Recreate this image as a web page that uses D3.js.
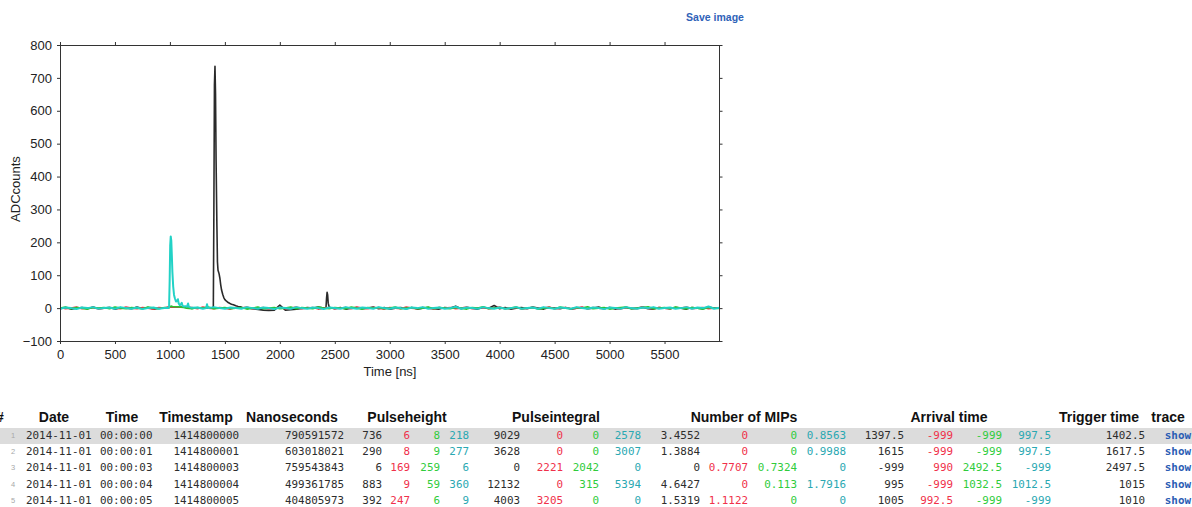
<!DOCTYPE html>
<html>
<head>
<meta charset="utf-8">
<script src="https://cdn.jsdelivr.net/npm/d3@7"></script>
<style>
  body { margin: 0; background: #fff; }
  svg { display: block; }
</style>
</head>
<body>
<div id="chart"></div>
<script>
// ---- trace data (ADC counts), baseline sampled every 50 ns ----
const baseStep = 50;
const blackBase = [-2,2,-3,0,2,-2,3,-1,0,2, -3,1,0,-2,3,-1,2,-3,0,1, 3,4,3,3,-1,1,0,0,0,0,
  0,0,0,2,1,-2,-4,-6,-7,-6, 9,-6,-5,-3,-1,2,0,3,0,0, -2,2,-3,0,2,-2,0,3,-2,2,
  -3,0,2,-2,2,-3,0,2,-2,-3, 2,0,6,-2,2,0,-3,2,0,8, -2,2,-3,0,2,-2,3,0,-3,2,
  0,-2,2,-3,0,2,-2,0,3,-2, 2,-3,0,2,-2,0,3,-2,-3,2, 0,-2,2,0,-3,2,0,-2,3,0, 1];
const redBase = [2,-2,0,3,-2,0,2,-3,0,2, 0,-2,3,0,-2,2,0,-3,2,0, 3,4,3,3,2,-2,3,0,-2,2,
  0,-3,2,0,3,-2,0,2,-2,0, 2,-2,0,3,-2,0,2,-3,0,2, -2,0,2,-2,3,0,-2,2,0,-3,
  2,0,-2,3,0,-2,2,0,-3,2, 0,2,-2,0,3,-2,0,2,-2,0, 3,-2,0,2,-3,0,2,-2,0,3,
  -2,0,2,-2,0,3,-2,2,0,-2, 2,0,-3,2,0,-2,3,0,-2,2, 0,-2,2,0,3,-2,0,2,-2,0, 1];
const greenBase = [0,3,-2,2,0,-3,2,0,2,-2, 3,0,-2,2,0,-2,3,0,-2,2, 0,0,0,0,-2,2,0,3,-2,0,
  2,-2,0,2,-3,0,3,-2,0,2, -2,0,3,-2,2,0,-2,3,0,-2, 2,0,-2,3,0,-3,2,0,2,-2,
  0,3,-2,0,2,-2,0,3,-2,2, 0,-2,2,0,-3,2,0,4,-2,0, 2,-2,0,3,-2,0,2,-3,0,2,
  -2,3,0,-2,2,0,4,-2,0,2, -3,0,2,3,-2,0,2,4,-2,0, 2,-2,3,0,-2,2,0,-3,2,0, -1];
const cyanBase = [-2,2,0,-3,2,0,3,-2,0,2, -2,3,0,-2,2,-3,0,2,-2,0, 0,0,0,0,0,2,-2,0,3,0,
  -2,2,0,-2,3,0,-2,2,0,-3, 2,0,-2,3,0,-2,2,0,-3,2, 0,-2,3,0,-2,2,0,-2,3,0,
  -2,2,0,-3,2,0,3,-2,0,2, -2,0,4,-2,2,0,-2,3,0,-2, 2,-2,0,3,-2,0,2,-2,3,0,
  -2,2,0,-2,3,0,-2,2,0,-3, 2,0,-2,3,0,-2,2,0,3,-2, 0,2,-2,0,3,-2,2,0,5,-2, 1];

// pulse segments [time ns, ADC]
const blackPulses = [
  [[1390,0],[1395,5],[1400,300],[1405,680],[1410,735],[1415,650],[1420,450],[1427.5,250],[1432.5,140],
   [1437.5,115],[1442.5,110],[1447.5,104],[1455,90],[1462.5,70],[1470,55],[1480,42],[1490,32],[1500,26],
   [1515,21],[1530,17],[1547,14],[1560,12],[1577,10],[1600,7],[1620,5],[1640,4],[1660,2],[1690,1]],
  [[2415,0],[2420,2],[2425,30],[2430,48],[2435,40],[2440,15],[2447.5,5],[2460,1]]
];
const redPulses = [];
const greenPulses = [
  [[990,0],[1000,4],[1010,6],[1025,5],[1050,4],[1075,4],[1100,3],[1125,2],[1150,0]]
];
const cyanPulses = [
  [[985,0],[992.5,3],[997.5,80],[1002.5,190],[1007.5,218],[1012.5,205],[1017.5,160],[1022.5,110],
   [1030,65],[1037.5,40],[1045,30],[1055,20],[1065,22],[1072.5,27],[1080,14],[1090,9],[1100,12],
   [1107.5,16],[1115,7],[1130,5],[1140,6],[1155,4],[1165,14],[1172.5,4],[1185,2],[1200,1]],
  [[1330,0],[1337.5,12],[1345,1]]
];

const traceColors = ["#2a2a2a", "#e8384c", "#28c42e", "#22d2c6"];
const xTicks = [0,500,1000,1500,2000,2500,3000,3500,4000,4500,5000,5500];
const yTicks = [-100,0,100,200,300,400,500,600,700,800];

// ---- table data ----
const headers = [
  { label: "#", x: 0 }, { label: "Date", x: 54 }, { label: "Time", x: 122 },
  { label: "Timestamp", x: 196 }, { label: "Nanoseconds", x: 292 }, { label: "Pulseheight", x: 407 },
  { label: "Pulseintegral", x: 556 }, { label: "Number of MIPs", x: 744 }, { label: "Arrival time", x: 949 },
  { label: "Trigger time", x: 1099 }, { label: "trace", x: 1168 }
];
const dates = ["2014-11-01","2014-11-01","2014-11-01","2014-11-01","2014-11-01"];
const times = ["00:00:00","00:00:01","00:00:03","00:00:04","00:00:05"];
const timestamps = ["1414800000","1414800001","1414800003","1414800004","1414800005"];
const nanoseconds = ["790591572","603018021","759543843","499361785","404805973"];
const pulseheights = [[736,6,8,218],[290,8,9,277],[6,169,259,6],[883,9,59,360],[392,247,6,9]];
const pulseintegrals = [[9029,0,0,2578],[3628,0,0,3007],[0,2221,2042,0],[12132,0,315,5394],[4003,3205,0,0]];
const mips = [["3.4552","0","0","0.8563"],["1.3884","0","0","0.9988"],["0","0.7707","0.7324","0"],
  ["4.6427","0","0.113","1.7916"],["1.5319","1.1122","0","0"]];
const arrivals = [["1397.5","-999","-999","997.5"],["1615","-999","-999","997.5"],["-999","990","2492.5","-999"],
  ["995","-999","1032.5","1012.5"],["1005","992.5","-999","-999"]];
const triggers = ["1402.5","1617.5","2497.5","1015","1010"];

const W = 1192, H = 507;
const svg = d3.select("#chart").append("svg")
  .attr("width", W).attr("height", H)
  .style("font-family", "'Liberation Sans', Helvetica, Arial, sans-serif");

svg.append("rect").attr("width", W).attr("height", H).attr("fill", "#fff");

// Save image link
svg.append("text")
  .attr("x", 715).attr("y", 21)
  .attr("text-anchor", "middle")
  .attr("font-size", 10.5).attr("font-weight", "bold")
  .attr("fill", "#2f62b8")
  .text("Save image");

// ---- chart ----
const plot = { left: 60, right: 719.5, top: 45, bottom: 341 };
const x = d3.scaleLinear().domain([0, 6000]).range([plot.left, plot.right]);
const y = d3.scaleLinear().domain([-100, 800]).range([plot.bottom, plot.top]);

function buildTrace(base, pulses) {
  let pts = base.map((v, i) => [i * baseStep, v]);
  pulses.forEach(seg => {
    const t0 = seg[0][0], t1 = seg[seg.length - 1][0];
    pts = pts.filter(p => p[0] < t0 || p[0] > t1);
  });
  pulses.forEach(seg => { pts = pts.concat(seg); });
  return pts.sort((a, b) => a[0] - b[0]);
}

const traces = [
  buildTrace(blackBase, blackPulses),
  buildTrace(redBase, redPulses),
  buildTrace(greenBase, greenPulses),
  buildTrace(cyanBase, cyanPulses)
];

const g = svg.append("g");

const line = d3.line().x(d => x(d[0])).y(d => y(d[1]));

g.append("defs").append("clipPath").attr("id", "clip")
  .append("rect")
  .attr("x", plot.left).attr("y", plot.top)
  .attr("width", plot.right - plot.left).attr("height", plot.bottom - plot.top);

g.append("g").attr("clip-path", "url(#clip)")
  .selectAll("path.trace")
  .data(traces)
  .enter().append("path")
  .attr("class", "trace")
  .attr("d", line)
  .attr("fill", "none")
  .attr("stroke", (d, i) => traceColors[i])
  .attr("stroke-width", (d, i) => i === 3 ? 2 : 1.6)
  .attr("stroke-linejoin", "round");

// axes (ticks outward)
function styleAxis(sel) {
  sel.select(".domain").remove();
  sel.selectAll(".tick line").attr("stroke", "#333");
  sel.selectAll(".tick text").attr("fill", "#222").attr("font-size", 13)
    .style("font-family", "'Liberation Sans', Helvetica, Arial, sans-serif");
}

g.append("g")
  .attr("transform", `translate(0,${plot.bottom})`)
  .call(d3.axisBottom(x).tickValues(xTicks).tickSize(3).tickPadding(6).tickFormat(d3.format("d")))
  .call(styleAxis);

g.append("g")
  .attr("transform", `translate(0,${plot.top})`)
  .call(d3.axisTop(x).tickValues(xTicks).tickSize(3).tickFormat(""))
  .call(styleAxis);

g.append("g")
  .attr("transform", `translate(${plot.left},0)`)
  .call(d3.axisLeft(y).tickValues(yTicks).tickSize(3).tickPadding(5).tickFormat(d3.format("d")))
  .call(styleAxis);

g.append("g")
  .attr("transform", `translate(${plot.right},0)`)
  .call(d3.axisRight(y).tickValues(yTicks).tickSize(3).tickFormat(""))
  .call(styleAxis);

g.append("rect")
  .attr("x", plot.left + 0.5).attr("y", plot.top + 0.5)
  .attr("width", plot.right - plot.left - 0.5).attr("height", plot.bottom - plot.top)
  .attr("fill", "none").attr("stroke", "#333").attr("stroke-width", 1);

g.append("text")
  .attr("x", 390).attr("y", 376)
  .attr("text-anchor", "middle").attr("font-size", 13).attr("fill", "#222")
  .text("Time [ns]");

g.append("text")
  .attr("transform", `translate(20,${(plot.top + plot.bottom) / 2 - 4}) rotate(-90)`)
  .attr("text-anchor", "middle").attr("font-size", 13).attr("fill", "#222")
  .text("ADCcounts");

// ---- table ----
const tbl = svg.append("g");
const headerY = 422;
const rowY0 = 439, rowH = 16.2;
const mono = "'DejaVu Sans Mono', 'Liberation Mono', monospace";
const monoSize = 10.9;
const cellColors = ["#2d2d2d", "#f0304a", "#2fcc3c", "#2aa8b2"];

tbl.selectAll("text.hdr")
  .data(headers)
  .enter().append("text")
  .attr("class", "hdr")
  .attr("x", d => d.x).attr("y", headerY)
  .attr("text-anchor", "middle")
  .attr("font-size", 14).attr("font-weight", "bold").attr("fill", "#111")
  .text(d => d.label);

// highlighted first row
tbl.append("rect")
  .attr("x", 0).attr("y", rowY0 - 11)
  .attr("width", W).attr("height", 16)
  .attr("fill", "#dcdcdc");

const rowData = dates.map((d, i) => ({
  i, date: d, time: times[i], ts: timestamps[i], ns: nanoseconds[i],
  groups: [pulseheights[i], pulseintegrals[i], mips[i], arrivals[i]],
  trig: triggers[i]
}));

const groupRight = [[382, 410, 440, 469], [520, 563, 599, 641], [700, 748, 797, 846], [904, 953, 1002, 1051]];

const rows = tbl.selectAll("g.row")
  .data(rowData)
  .enter().append("g")
  .attr("class", "row")
  .attr("transform", d => `translate(0,${rowY0 + d.i * rowH})`)
  .style("font-family", mono)
  .attr("font-size", monoSize);

rows.append("text")
  .attr("x", 13).attr("y", -1)
  .attr("text-anchor", "middle").attr("font-size", 7.5).attr("fill", "#a8a8a8")
  .style("font-family", "'Liberation Sans', Arial, sans-serif")
  .text(d => d.i + 1);

rows.append("text").attr("x", 26).attr("fill", cellColors[0]).text(d => d.date);
rows.append("text").attr("x", 100).attr("fill", cellColors[0]).text(d => d.time);
rows.append("text").attr("x", 239).attr("text-anchor", "end").attr("fill", cellColors[0]).text(d => d.ts);
rows.append("text").attr("x", 344).attr("text-anchor", "end").attr("fill", cellColors[0]).text(d => d.ns);

groupRight.forEach((xs, gi) => {
  xs.forEach((xr, ci) => {
    rows.append("text")
      .attr("x", xr).attr("text-anchor", "end")
      .attr("fill", cellColors[ci])
      .text(d => d.groups[gi][ci]);
  });
});

rows.append("text").attr("x", 1145).attr("text-anchor", "end").attr("fill", cellColors[0]).text(d => d.trig);
rows.append("text").attr("x", 1191).attr("text-anchor", "end")
  .attr("fill", "#2a5cb4").attr("font-weight", "bold").text("show");
</script>
</body>
</html>
